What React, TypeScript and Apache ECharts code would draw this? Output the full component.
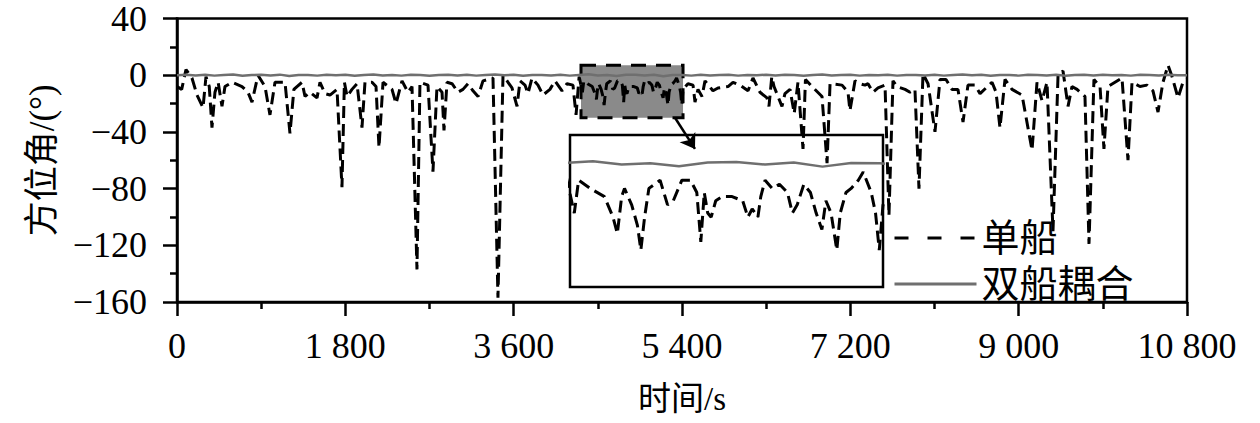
import React, { useEffect, useRef } from "react";
import * as echarts from "echarts";

// ---- data ----
const xTickStep = 1800;
const yTicks = [-160, -120, -80, -40, 0, 40];

// 单船 (single ship) heading angle, time in s
const singleTime = [
  0, 50, 96, 160, 214, 278, 310, 345, 374, 406, 440, 481, 513, 588, 695, 759, 802, 866, 941, 994,
  1048, 1155, 1208, 1250, 1283, 1337, 1369, 1422, 1497, 1529, 1583, 1636, 1711, 1764, 1790, 1818, 1871, 1925, 1978, 2010,
  2085, 2128, 2160, 2203, 2299, 2342, 2406, 2470, 2513, 2566, 2598, 2684, 2737, 2780, 2834, 2855, 2887, 2941, 3005, 3058,
  3112, 3165, 3219, 3272, 3379, 3432, 3486, 3540, 3582, 3636, 3668, 3721, 3753, 3796, 3860, 3914, 3988, 4042, 4117, 4170,
  4234, 4267, 4300, 4335, 4350, 4390, 4440, 4470, 4485, 4500, 4510, 4535, 4555, 4567, 4580, 4595, 4634, 4660, 4680, 4710,
  4740, 4762, 4776, 4788, 4800, 4812, 4828, 4850, 4885, 4922, 4940, 4955, 4975, 4985, 5000, 5025, 5050, 5078, 5095, 5112,
  5135, 5158, 5178, 5198, 5212, 5230, 5250, 5262, 5282, 5300, 5325, 5342, 5370, 5385, 5398, 5411, 5464, 5518, 5539, 5571,
  5614, 5646, 5731, 5785, 5892, 5945, 6020, 6106, 6159, 6234, 6309, 6330, 6360, 6384, 6469, 6501, 6555, 6600, 6640, 6694,
  6720, 6790, 6897, 6951, 6983, 7111, 7175, 7196, 7250, 7303, 7357, 7389, 7442, 7496, 7571, 7613, 7656, 7699, 7785, 7838,
  7891, 7934, 7977, 8031, 8105, 8159, 8223, 8287, 8351, 8405, 8458, 8533, 8587, 8651, 8715, 8758, 8800, 8854, 8929, 9036,
  9143, 9196, 9250, 9303, 9367, 9421, 9474, 9528, 9570, 9624, 9709, 9752, 9805, 9870, 9912, 9955, 10030, 10105, 10169, 10212,
  10297, 10372, 10436, 10490, 10543, 10597, 10640, 10704, 10757, 10800,
];
const singleAngle = [
  -8, -10, 4, -2, -14, -23, -1, -8, -37, -12, -5, -22, -8, -5, -8, -12, -19, 0, -8, -28,
  -5, -5, -41, -10, -8, -5, -15, -12, -16, -5, -13, -14, -10, -79, -5, -15, -10, -6, -37, -5,
  -5, -8, -51, -5, -10, -20, -4, -12, -8, -137, -5, -7, -68, -8, -12, -39, -5, -6, -12, -10,
  -6, -11, -15, -4, -2, -157, 0, -5, -9, -22, -4, -7, -13, -2, -7, -14, -10, -4, -11, -6,
  -7, -28, -1, -12, -4, -6, -8, -13, -17, -8, -6, -10, -15, -21, -13, -6, -4, -10, -9, -4,
  -4, -7, -19, -7, -12, -13, -9, -8, -8, -9, -13, -11, -13, -8, -4, -6, -5, -7, -12, -10,
  -5, -7, -12, -16, -9, -12, -21, -12, -7, -6, -4, -2, -7, -12, -21, -10, -6, -7, -19, -10,
  -15, -4, -11, -9, -8, -5, -7, -11, -2, -12, -16, -22, -1, -8, -22, -13, -10, -27, -5, -52,
  -3, -8, -15, -62, -6, -7, -12, -25, -4, -6, -7, -6, -12, -9, -7, -99, -4, -8, -10, -12,
  -10, -80, 1, -6, -40, -3, -3, -10, -10, -33, -7, -7, -13, -9, -5, -12, -37, -3, -10, -14,
  -53, -5, -18, -5, -110, 0, 3, -22, -8, -10, -15, -119, -3, -8, -52, -8, -5, -2, -60, -5,
  -8, -7, -11, -26, -5, 7, -1, -16, -5, -3,
];

// 双船耦合 (coupled ships) heading angle, sampled every 100 s
const coupledStep = 100;
const coupledAngle = [
  0, 0.3, -0.2, 0.4, -0.3, 0.2, 0.5, -0.4, 0.1, 0.3,
  -0.2, 0.4, -0.5, 0.2, 0.1, -0.3, 0.4, -0.1, 0.3, -0.4,
  0.2, 0.5, -0.2, 0.1, -0.3, 0.3, 0.2, -0.4, 0.1, 0.4,
  -0.2, 0.3, -0.3, 0.2, 0.5, -0.1, 0.3, -0.4, 0.2, 0.1,
  -0.2, 0.4, -0.3, 0.2, 0.6, -0.2, 0.1, -0.6, 0.3, 0.4,
  -0.2, 0.3, -0.7, 0.2, 0.1, -0.3, 0.4, -0.2, 0.1, 0.3,
  -0.3, 0.2, -0.1, 0.4, -0.2, 0.3, 0.1, -0.4, 0.2, 0.5,
  -0.2, 0.1, 0.3, -0.3, 0.2, -0.1, 0.4, -0.3, 0.2, 0.1,
  -0.2, 0.4, -0.3, 0.2, 0.5, -0.1, 0.3, -0.4, 0.1, 0.2,
  -0.3, 0.4, 0.2, -0.2, 0.3, -0.4, 0.1, 0.3, -0.2, 0.4,
  -0.1, 0.2, -0.3, 0.3, 0.1, -0.2, 0.4, -0.1, 0,
];

// zoomed window shown in the inset
const zoomTime = [4320, 5411];
const zoomAngle = [-30, 7];
// arrow from zoom box to inset
const arrowFrom = [5325, -30];
const arrowTo = [5539, -52];

const seriesNames = ["单船", "双船耦合"];

const NUM_FONT = "'Liberation Serif', 'Times New Roman', 'Noto Sans CJK SC', serif";
const CJK_FONT = "'Liberation Serif', 'Noto Sans CJK SC', serif";

const fmtX = (v: number) => {
  const s = String(Math.round(v));
  return s.length > 3 ? s.slice(0, -3) + " " + s.slice(-3) : s;
};
const fmtY = (v: number) => (v < 0 ? "\u2212" + Math.abs(v) : String(v));

export default function App() {
  const ref = useRef<HTMLDivElement>(null);
  useEffect(() => {
    document.body.style.margin = "0";
    if (!ref.current) return;
    const chart = echarts.init(ref.current, undefined, { renderer: "svg" });

    const singleData = singleTime.map((t, i) => [t, singleAngle[i]]);
    const coupledData = coupledAngle.map((v, i) => [i * coupledStep, v]);

    const black = "#000";
    const gray = "#6f6f6f";
    const dash = [12, 6];
    const hidden = { color: "rgba(0,0,0,0)", borderWidth: 0, opacity: 0 };

    const option: any = {
      animation: false,
      backgroundColor: "#fff",
      grid: [
        { left: 177, top: 18.5, width: 1010, height: 283.5, show: true, borderColor: black, borderWidth: 2.5, backgroundColor: "transparent" },
        { left: 570, top: 135, width: 313, height: 152, show: true, borderColor: black, borderWidth: 2.5, backgroundColor: "#fff" },
      ],
      xAxis: [
        {
          type: "value", gridIndex: 0, min: 0, max: 10800, interval: xTickStep,
          axisLine: { show: true, onZero: false, lineStyle: { color: black, width: 2.5 } },
          axisTick: { show: true, inside: false, length: 14, lineStyle: { color: black, width: 2.5 } },
          minorTick: { show: true, splitNumber: 2, length: 7, lineStyle: { color: black, width: 2.5 } },
          splitLine: { show: false },
          axisLabel: { formatter: fmtX, fontSize: 36, fontFamily: NUM_FONT, color: black, margin: 26, showMaxLabel: true, showMinLabel: true },
          name: "时间/s", nameLocation: "middle", nameGap: 80,
          nameTextStyle: { fontSize: 33, fontFamily: CJK_FONT, color: black },
        },
        { type: "value", gridIndex: 1, min: zoomTime[0], max: zoomTime[1], show: false },
      ],
      yAxis: [
        {
          type: "value", gridIndex: 0, min: yTicks[0], max: yTicks[yTicks.length - 1], interval: 40,
          axisLine: { show: true, onZero: false, lineStyle: { color: black, width: 2.5 } },
          axisTick: { show: true, inside: false, length: 14, lineStyle: { color: black, width: 2.5 } },
          minorTick: { show: true, splitNumber: 2, length: 7, lineStyle: { color: black, width: 2.5 } },
          splitLine: { show: false },
          axisLabel: { formatter: fmtY, fontSize: 36, fontFamily: NUM_FONT, color: black, margin: 30 },
          name: "方位角/(°)", nameLocation: "middle", nameGap: 117,
          nameTextStyle: { fontSize: 35, fontFamily: CJK_FONT, color: black },
        },
        { type: "value", gridIndex: 1, min: zoomAngle[0], max: zoomAngle[1], show: false },
      ],
      legend: {
        orient: "vertical", left: 893, top: 219, padding: 0,
        itemWidth: 82, itemHeight: 2, itemGap: 8,
        textStyle: { fontSize: 38, lineHeight: 38, fontFamily: CJK_FONT, color: black },
        data: [
          { name: seriesNames[0], itemStyle: hidden, lineStyle: { type: [14, 19], width: 3, color: black } },
          { name: seriesNames[1], itemStyle: hidden, lineStyle: { width: 3, color: gray } },
        ],
      },
      series: [
        {
          name: seriesNames[1], type: "line", xAxisIndex: 0, yAxisIndex: 0, data: coupledData,
          symbol: "none", showSymbol: false, z: 4,
          lineStyle: { color: gray, width: 2.5 }, itemStyle: { color: gray },
        },
        {
          name: seriesNames[0], type: "line", xAxisIndex: 0, yAxisIndex: 0, data: singleData,
          symbol: "none", showSymbol: false, z: 3,
          lineStyle: { color: black, width: 3, type: dash }, itemStyle: { color: black },
          markArea: {
            silent: true, z: 1,
            itemStyle: { color: "#8a8a8a", borderColor: black, borderWidth: 3, borderType: [15, 10] },
            label: { show: false },
            data: [[{ coord: [zoomTime[0], zoomAngle[1]] }, { coord: [zoomTime[1], zoomAngle[0]] }]],
          },
          markLine: {
            silent: true, symbol: ["none", "arrow"], symbolSize: 14,
            label: { show: false },
            lineStyle: { color: black, width: 2.5, type: "solid" },
            data: [[{ coord: arrowFrom }, { coord: arrowTo }]],
          },
        },
        {
          name: seriesNames[1], type: "line", xAxisIndex: 1, yAxisIndex: 1, data: coupledData,
          symbol: "none", showSymbol: false, z: 4, clip: true,
          lineStyle: { color: gray, width: 2.5 }, itemStyle: { color: gray },
        },
        {
          name: seriesNames[0], type: "line", xAxisIndex: 1, yAxisIndex: 1, data: singleData,
          symbol: "none", showSymbol: false, z: 3, clip: true,
          lineStyle: { color: black, width: 3, type: dash }, itemStyle: { color: black },
        },
      ],
    };
    chart.setOption(option);
    return () => chart.dispose();
  }, []);
  return <div ref={ref} style={{ width: 1260, height: 423 }} />;
}
